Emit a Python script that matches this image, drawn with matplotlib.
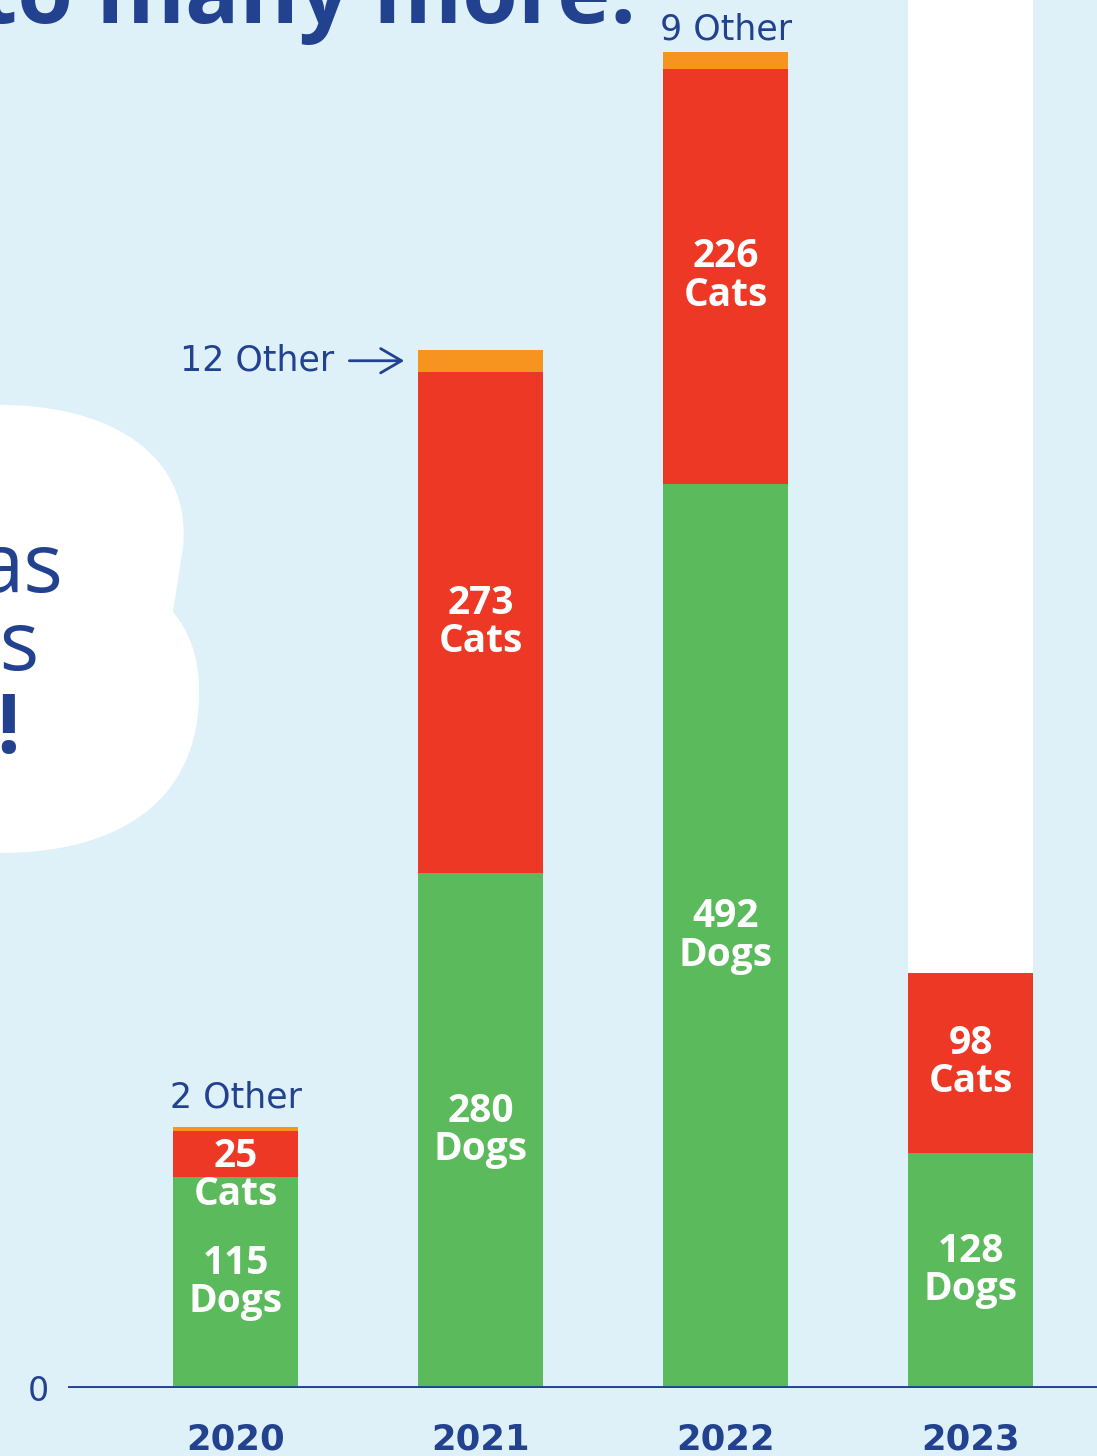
import matplotlib.pyplot as plt
from matplotlib.path import Path
from matplotlib.patches import PathPatch
import numpy as np

# data
years = ['2020', '2021', '2022', '2023']
dogs = [115, 280, 492, 128]
cats = [25, 273, 226, 98]
other = [2, 12, 9, 0]

BG = '#def0f8'
BLUE = '#22418f'
GREEN = '#5bba5b'
RED = '#ee3826'
ORANGE = '#f79420'

W, H = 1097, 1456
plt.rcParams['font.family'] = ['DejaVu Sans']
OPEN = ['Open Sans', 'DejaVu Sans']

fig = plt.figure(figsize=(W / 100, H / 100), dpi=100, facecolor=BG)

# white cloud bubble on the left (pixel coords, top-left origin)
def px(x, y):
    return (x / W, 1 - y / H)

verts = [(-10, 405), (110, 402), (192, 455), (183, 547),
         (173, 612),
         (190, 632), (200, 660), (199, 693),
         (199, 800), (120, 853), (0, 853),
         (-10, 853), (-10, 405)]
codes = [Path.MOVETO, Path.CURVE4, Path.CURVE4, Path.CURVE4,
         Path.LINETO,
         Path.CURVE4, Path.CURVE4, Path.CURVE4,
         Path.CURVE4, Path.CURVE4, Path.CURVE4,
         Path.LINETO, Path.CLOSEPOLY]
cloud = PathPatch(Path([px(*v) for v in verts], codes), transform=fig.transFigure,
                  facecolor='white', edgecolor='none', zorder=0)
fig.patches.append(cloud)

# sentence in the bubble runs off the left edge, as in the original
fig.text(63 / W, 1 - 592 / H, 'as', fontsize=60, color=BLUE, ha='right',
         va='baseline', family=OPEN)
fig.text(40 / W, 1 - 670 / H, 'ss', fontsize=60, color=BLUE, ha='right',
         va='baseline', family=OPEN)
fig.text(20 / W, 1 - 753 / H, '!', fontsize=60, color=BLUE, ha='right',
         va='baseline', weight='bold', family=OPEN)

# cropped headline at the top
fig.text(636 / W, 1 - 23 / H, 'to many more.', fontsize=65, color=BLUE, ha='right',
         va='baseline', weight='bold', family=OPEN)

base = 1388
ax = fig.add_axes([68 / W, (H - base) / H, (W - 68) / W, base / H])
ax.set_facecolor('none')

x = np.arange(len(years))
dogs = np.array(dogs)
cats = np.array(cats)
other = np.array(other)
totals = dogs + cats + other
ymax = 727 * base / 1336
bw = 0.51

ax.bar(x, dogs, bw, color=GREEN, zorder=2)
ax.bar(x, cats, bw, bottom=dogs, color=RED, zorder=2)
ax.bar(x, other, bw, bottom=dogs + cats, color=ORANGE, zorder=2)
# 2023 still in progress
ax.bar(x[3], ymax - totals[3], bw, bottom=totals[3], color='white', zorder=1)

ax.set_xlim(-0.684, 3.516)
ax.set_ylim(0, ymax)
ax.axhline(0, color=BLUE, lw=3.5, zorder=3)

lab = dict(color='white', weight='bold', fontsize=28, ha='center',
           linespacing=0.98, zorder=4, family=OPEN)
for i in range(len(years)):
    ax.text(x[i], dogs[i] / 2, f'{dogs[i]}\nDogs', va='center', **lab)
    seg_px = cats[i] * base / ymax
    if seg_px > 90:
        ax.text(x[i], dogs[i] + cats[i] / 2, f'{cats[i]}\nCats', va='center', **lab)
    else:
        ax.annotate(f'{cats[i]}\nCats', (x[i], dogs[i] + cats[i]),
                    xytext=(0, -6), textcoords='offset pixels', va='top', **lab)

oth = dict(color=BLUE, fontsize=25)
ax.annotate(f'{other[0]} Other', (x[0], totals[0]), xytext=(0, 20),
            textcoords='offset pixels', ha='center', va='baseline', **oth)
ax.annotate(f'{other[2]} Other', (x[2], totals[2]), xytext=(0, 12),
            textcoords='offset pixels', ha='center', va='baseline', **oth)
ax.annotate(f'{other[1]} Other', (x[1] - bw / 2, dogs[1] + cats[1] + other[1] / 2),
            xytext=(-84, 0), textcoords='offset pixels', ha='right', va='center',
            arrowprops=dict(arrowstyle='->,head_length=0.6,head_width=0.35',
                            color=BLUE, lw=2, shrinkA=9, shrinkB=10), **oth)

ax.set_xticks(x, years)
ax.set_yticks([0], ['0'])
ax.tick_params(axis='x', length=0, pad=25, labelsize=25.5, labelcolor=BLUE)
ax.tick_params(axis='y', length=0, pad=14, labelsize=24, labelcolor=BLUE)
for t in ax.get_xticklabels():
    t.set_fontweight('bold')
for s in ax.spines.values():
    s.set_visible(False)

fig.savefig('out.png', dpi=100, facecolor=BG)
